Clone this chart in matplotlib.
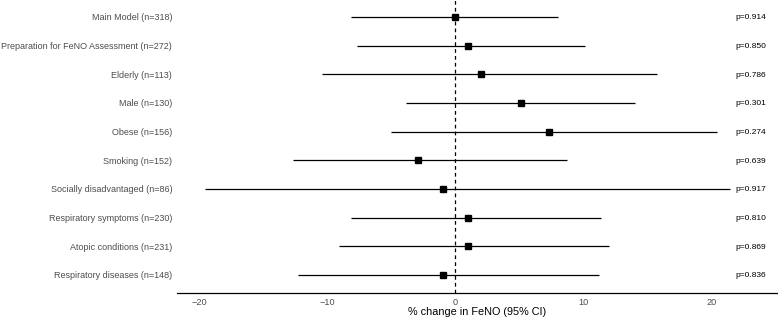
import matplotlib.pyplot as plt
import numpy as np

plt.rcParams['font.family'] = ['Liberation Sans', 'DejaVu Sans']

# Данные модели
labels = ["Main Model (n=318)", "Preparation for FeNO Assessment (n=272)", "Elderly (n=113)",
          "Male (n=130)", "Obese (n=156)", "Smoking (n=152)", "Socially disadvantaged (n=86)",
          "Respiratory symptoms (n=230)", "Atopic conditions (n=231)", "Respiratory diseases (n=148)"]
est = [0.0, 1.0, 2.0, 5.1, 7.3, -2.95, -1.0, 1.0, 1.0, -1.0]
lo = [-8.2, -7.7, -10.45, -3.9, -5.05, -12.7, -19.6, -8.15, -9.1, -12.3]
hi = [8.0, 10.15, 15.75, 14.05, 20.4, 8.7, 21.45, 11.4, 12.0, 11.2]
pvals = ["p=0.914", "p=0.850", "p=0.786", "p=0.301", "p=0.274",
         "p=0.639", "p=0.917", "p=0.810", "p=0.869", "p=0.836"]

fig = plt.figure(figsize=(7.78, 3.19), dpi=100)
ax = fig.add_axes([0.2275, 0.0815, 0.7725, 0.9185])

y = np.arange(1, len(labels) + 1)
ax.hlines(y, lo, hi, color='black', linewidth=0.9)
ax.plot(est, y, 's', color='black', markersize=5)
ax.axvline(0, color='black', linestyle=(0, (3, 2.5)), linewidth=0.9)

for yi, p in zip(y, pvals):
    ax.text(21.85, yi, p, fontsize=6, va='center_baseline', ha='left', color='black')

ax.set_xlim(-21.76, 25.2)
ax.set_ylim(10.63, 0.407)
ax.set_yticks(y)
ax.set_yticklabels(labels, fontsize=6.45, color='#4d4d4d')
ax.set_xticks([-20, -10, 0, 10, 20])
ax.set_xticklabels(['\u221220', '\u221210', '0', '10', '20'], fontsize=6.6, color='#4d4d4d')
ax.tick_params(axis='y', length=0, pad=3.5)
ax.tick_params(axis='x', length=0, pad=3.5)
ax.set_xlabel("% change in FeNO (95% CI)", fontsize=7.8, labelpad=0)

for s in ['top', 'right', 'left']:
    ax.spines[s].set_visible(False)
ax.spines['bottom'].set_linewidth(0.9)

plt.savefig('out.png', dpi=100)
